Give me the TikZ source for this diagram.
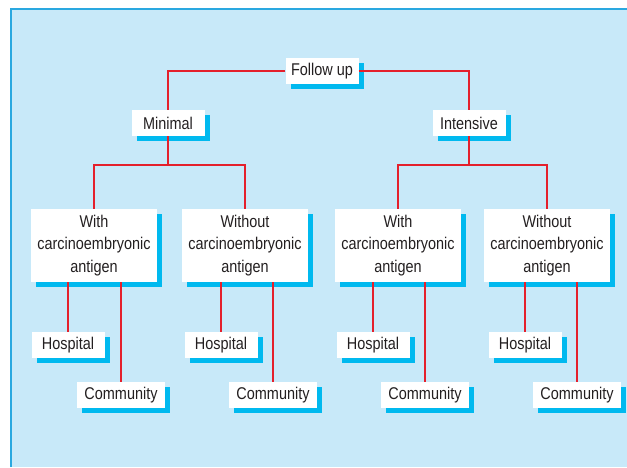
\documentclass[tikz,border=0pt]{standalone}
\usepackage{fontspec}
\newfontfamily\boxfont{Liberation Sans}[FakeStretch=0.85]
\usepackage{tikz}
\usetikzlibrary{shadows, positioning, calc}

\definecolor{panelblue}{HTML}{C8E9F9}
\definecolor{edgeblue}{HTML}{2AA8E0}
\definecolor{shadeblue}{HTML}{00B9EF}
\definecolor{linered}{HTML}{E4202C}
\definecolor{textgray}{HTML}{231F20}

\tikzset{
	plan/.style={fill=white, inner sep=0pt, text=textgray, align=center,
		font=\boxfont\fontsize{17}{22.5}\selectfont,
		drop shadow={shadow xshift=5pt, shadow yshift=-5pt, fill=shadeblue, opacity=1}},
	small/.style={plan, minimum width=73pt, minimum height=26pt},
	wide/.style={plan, minimum width=88pt, minimum height=26pt},
	big/.style={plan, minimum width=126pt, minimum height=73pt},
	link/.style={draw=linered, line width=2pt}
}

\begin{document}
\begin{tikzpicture}[x=1pt, y=-1pt]
		\useasboundingbox (0,0) rectangle (627,467);
		
		% Panel
		\fill[panelblue] (11,9) rectangle (627,467);
		\draw[edgeblue, line width=1.6pt] (11,467) -- (11,9) -- (627,9);
		
		% Top levels
		\node[small] (follow) at (322,71) {Follow up};
		\node[small] (minimal) at (168,123) {Minimal};
		\node[small] (intensive) at (469,123) {Intensive};
		
		% Tests
		\node[big] (withA) at (94,245.5) {With\\carcinoembryonic\\antigen};
		\node[big] (withoutA) at (245,245.5) {Without\\carcinoembryonic\\antigen};
		\node[big] (withB) at (398,245.5) {With\\carcinoembryonic\\antigen};
		\node[big] (withoutB) at (547,245.5) {Without\\carcinoembryonic\\antigen};
		
		% Settings
		\node[small] (hospA) at (68,345) {Hospital};
		\node[small] (hospB) at (221,345) {Hospital};
		\node[small] (hospC) at (373,345) {Hospital};
		\node[small] (hospD) at (525,345) {Hospital};
		\node[wide] (commA) at (121,395) {Community};
		\node[wide] (commB) at (273,395) {Community};
		\node[wide] (commC) at (425,395) {Community};
		\node[wide] (commD) at (577,395) {Community};
		
		% Junctions
		\coordinate (minjoin) at (168,165);
		\coordinate (intjoin) at (469,165);
		
		\draw[link] (follow.west) -| (minimal.north);
		\draw[link] (follow.east) -| (intensive.north);
		\draw[link] (minimal.south) -- (minjoin);
		\draw[link] (intensive.south) -- (intjoin);
		\draw[link] (withA.north) |- (minjoin) -| (withoutA.north);
		\draw[link] (withB.north) |- (intjoin) -| (withoutB.north);
		
		\draw[link] (hospA.north) -- (hospA.north |- withA.south);
		\draw[link] (commA.north) -- (commA.north |- withA.south);
		\draw[link] (hospB.north) -- (hospB.north |- withoutA.south);
		\draw[link] (commB.north) -- (commB.north |- withoutA.south);
		\draw[link] (hospC.north) -- (hospC.north |- withB.south);
		\draw[link] (commC.north) -- (commC.north |- withB.south);
		\draw[link] (hospD.north) -- (hospD.north |- withoutB.south);
		\draw[link] (commD.north) -- (commD.north |- withoutB.south);
	\end{tikzpicture}
\end{document}
